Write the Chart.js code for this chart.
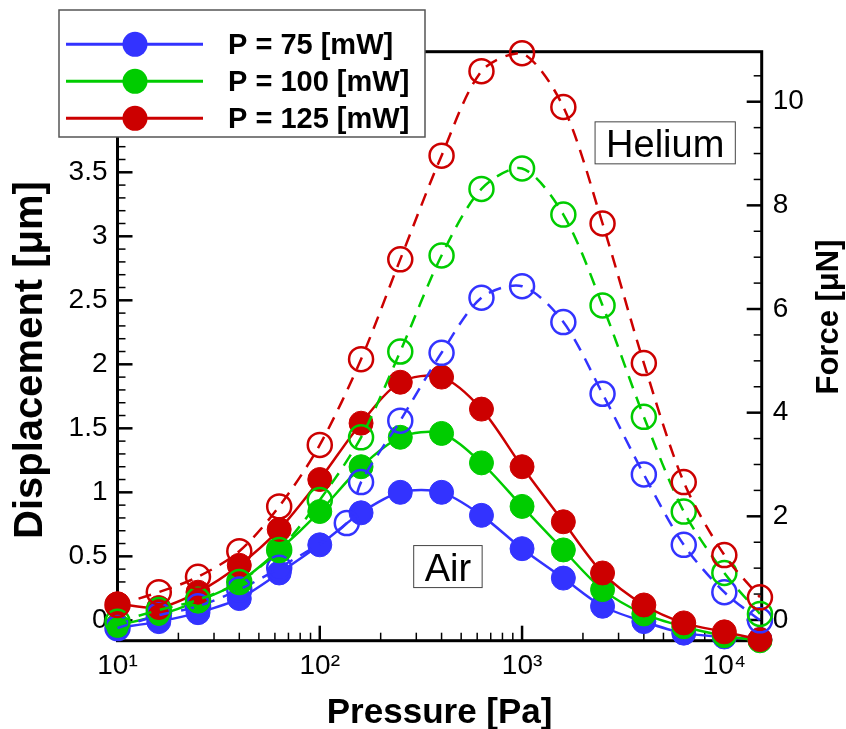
<!DOCTYPE html>
<html>
<head>
<meta charset="utf-8">
<script src="https://cdn.jsdelivr.net/npm/chart.js@4.4.1/dist/chart.umd.min.js"></script>
<style>
  html, body { margin: 0; padding: 0; background: #fff; }
  canvas { display: block; }
</style>
</head>
<body>
<canvas id="myChart" width="846" height="729"></canvas>
<script>
// pressure points [Pa]
var pressure = [10, 16, 25, 40, 63, 100, 160, 250, 400, 630, 1000, 1600, 2500, 4000, 6300, 10000, 15000];
// the 75 mW helium run has its 6th point at ~136 Pa instead of 100
var pressureHe75 = [10, 16, 25, 40, 63, 136, 160, 250, 400, 630, 1000, 1600, 2500, 4000, 6300, 10000, 15000];

var powerLabels = ['P = 75 [mW]', 'P = 100 [mW]', 'P = 125 [mW]'];
var colors = ['#3333ff', '#00cc00', '#cc0000'];

// displacement [um], air (filled, solid line)
var air75  = [-0.06, -0.01, 0.06, 0.17, 0.37, 0.59, 0.84, 1.00, 1.00, 0.82, 0.56, 0.33, 0.11, -0.01, -0.10, -0.13, -0.15];
var air100 = [-0.04, 0.04, 0.15, 0.30, 0.55, 0.85, 1.20, 1.43, 1.46, 1.23, 0.89, 0.55, 0.24, 0.05, -0.05, -0.12, -0.16];
var air125 = [0.13, 0.10, 0.22, 0.43, 0.71, 1.10, 1.54, 1.86, 1.90, 1.65, 1.20, 0.77, 0.37, 0.12, -0.02, -0.09, -0.15];

// displacement [um], helium (open, dashed line)
var he75  = [-0.06, 0.04, 0.11, 0.24, 0.41, 0.76, 1.08, 1.56, 2.09, 2.52, 2.61, 2.33, 1.77, 1.14, 0.59, 0.22, 0.00];
var he100 = [-0.01, 0.08, 0.16, 0.30, 0.55, 0.94, 1.43, 2.10, 2.85, 3.37, 3.53, 3.17, 2.46, 1.59, 0.85, 0.37, 0.05];
var he125 = [0.12, 0.22, 0.34, 0.54, 0.89, 1.37, 2.04, 2.82, 3.63, 4.29, 4.43, 4.01, 3.10, 2.01, 1.08, 0.51, 0.18];

// tick labels
var xTickValues = [10, 100, 1000, 10000];
var xTickLabels = ['10\u00b9', '10\u00b2', '10\u00b3', '10\u2074'];

var FONT = '"Liberation Sans", Arial, Helvetica, sans-serif';

function pts(xs, ys) {
  return xs.map(function (x, i) { return {x: x, y: ys[i]}; });
}

function airSet(i, ys, order) {
  return {
    label: powerLabels[i] + ' air', data: pts(pressure, ys), yAxisID: 'y',
    borderColor: colors[i], backgroundColor: colors[i], borderWidth: 2.5,
    pointRadius: 12, pointBackgroundColor: colors[i], pointBorderColor: colors[i], pointBorderWidth: 1,
    tension: 0.3, clip: false, order: order
  };
}
function heSet(i, xs, ys, order) {
  return {
    label: powerLabels[i] + ' helium', data: pts(xs, ys), yAxisID: 'y',
    borderColor: colors[i], backgroundColor: 'rgba(0,0,0,0)', borderWidth: 2.5, borderDash: [13, 9],
    pointRadius: 12, pointBackgroundColor: 'rgba(0,0,0,0)', pointBorderColor: colors[i], pointBorderWidth: 2.5,
    tension: 0.3, clip: false, order: order
  };
}

function isInt(v) { return Math.abs(v - Math.round(v)) < 1e-6; }

// frame + inward ticks
var axesPlugin = {
  id: 'axesPlugin',
  beforeDatasetsDraw: function (chart) {
    var ctx = chart.ctx, a = chart.chartArea;
    ctx.save();
    ctx.strokeStyle = '#000';
    ctx.lineCap = 'butt';
    // x ticks
    var sx = chart.scales.x;
    sx.ticks.forEach(function (t) {
      var v = t.value;
      var e = Math.floor(Math.log10(v) + 1e-9);
      var sig = v / Math.pow(10, e);
      if (!isInt(sig) || v <= sx.min || v >= sx.max) return;
      var major = Math.round(sig) === 1;
      var px = sx.getPixelForValue(v);
      ctx.lineWidth = major ? 2.5 : 1.5;
      ctx.beginPath();
      ctx.moveTo(px, a.bottom);
      ctx.lineTo(px, a.bottom - (major ? 15 : 8));
      ctx.stroke();
    });
    // left ticks
    var sy = chart.scales.y;
    sy.ticks.forEach(function (t) {
      var major = isInt(t.value * 2);
      var py = sy.getPixelForValue(t.value);
      ctx.lineWidth = major ? 2.5 : 1.5;
      ctx.beginPath();
      ctx.moveTo(a.left, py);
      ctx.lineTo(a.left + (major ? 15 : 8), py);
      ctx.stroke();
    });
    // right ticks
    var sr = chart.scales.y1;
    sr.ticks.forEach(function (t) {
      var major = isInt(t.value / 2);
      var py = sr.getPixelForValue(t.value);
      ctx.lineWidth = major ? 2.5 : 1.5;
      ctx.beginPath();
      ctx.moveTo(a.right, py);
      ctx.lineTo(a.right - (major ? 15 : 8), py);
      ctx.stroke();
    });
    ctx.lineWidth = 3;
    ctx.strokeRect(a.left, a.top, a.right - a.left, a.bottom - a.top);
    ctx.restore();
  },
  afterDraw: function (chart) {
    var ctx = chart.ctx, a = chart.chartArea;
    var sx = chart.scales.x, sy = chart.scales.y;
    ctx.save();
    ctx.fillStyle = '#000';

    // axis titles
    ctx.font = 'bold 35px ' + FONT;
    ctx.textAlign = 'center';
    ctx.textBaseline = 'alphabetic';
    ctx.fillText('Pressure [Pa]', (a.left + a.right) / 2, 723);

    ctx.save();
    ctx.translate(42, 360);
    ctx.rotate(-Math.PI / 2);
    ctx.font = 'bold 40px ' + FONT;
    ctx.fillText('Displacement [\u03bcm]', 0, 0);
    ctx.restore();

    ctx.save();
    ctx.translate(838, 317);
    ctx.rotate(-Math.PI / 2);
    ctx.font = 'bold 31px ' + FONT;
    ctx.fillText('Force [\u03bcN]', 0, 0);
    ctx.restore();

    // gas labels, placed in data coordinates
    function boxLabel(text, xv, yv) {
      ctx.font = '38px ' + FONT;
      var w = ctx.measureText(text).width + 22;
      var h = 42;
      var cx = sx.getPixelForValue(xv), cy = sy.getPixelForValue(yv);
      ctx.fillStyle = '#fff';
      ctx.fillRect(cx - w / 2, cy - h / 2, w, h);
      ctx.strokeStyle = '#444';
      ctx.lineWidth = 1;
      ctx.strokeRect(cx - w / 2, cy - h / 2, w, h);
      ctx.fillStyle = '#000';
      ctx.textAlign = 'center';
      ctx.textBaseline = 'alphabetic';
      ctx.fillText(text, cx, cy + 14);
    }
    boxLabel('Helium', 5100, 3.73);
    boxLabel('Air', 430, 0.42);

    // legend
    ctx.fillStyle = '#fff';
    ctx.fillRect(59, 10, 366, 127);
    ctx.strokeStyle = '#555';
    ctx.lineWidth = 1.5;
    ctx.strokeRect(59, 10, 366, 127);
    ctx.font = 'bold 29px ' + FONT;
    ctx.textAlign = 'left';
    for (var i = 0; i < powerLabels.length; i++) {
      var ry = 44.3 + i * 37;
      ctx.strokeStyle = colors[i];
      ctx.lineWidth = 3;
      ctx.beginPath();
      ctx.moveTo(66, ry);
      ctx.lineTo(203, ry);
      ctx.stroke();
      ctx.fillStyle = colors[i];
      ctx.beginPath();
      ctx.arc(135, ry, 12.5, 0, Math.PI * 2);
      ctx.fill();
      ctx.fillStyle = '#000';
      ctx.fillText(powerLabels[i], 228, ry + 10);
    }
    ctx.restore();
  }
};

var ctx = document.getElementById('myChart').getContext('2d');
var chart = new Chart(ctx, {
  type: 'line',
  data: {
    datasets: [
      airSet(0, air75, 5),
      airSet(1, air100, 4),
      airSet(2, air125, 3),
      heSet(0, pressureHe75, he75, 2),
      heSet(1, pressure, he100, 1),
      heSet(2, pressure, he125, 0)
    ]
  },
  options: {
    responsive: false,
    devicePixelRatio: 1,
    animation: false,
    events: [],
    layout: { padding: { top: 51.7, left: 0, right: 0, bottom: 0 } },
    plugins: { legend: { display: false }, tooltip: { enabled: false } },
    scales: {
      x: {
        type: 'logarithmic', position: 'bottom', min: 10, max: 15300,
        grid: { display: false, drawTicks: false }, border: { display: false },
        ticks: {
          autoSkip: false, maxRotation: 0, minRotation: 0, padding: 9, color: '#000',
          font: { family: FONT, size: 28 },
          callback: function (v) {
            var k = xTickValues.indexOf(Math.round(v));
            return k >= 0 && Math.abs(v - xTickValues[k]) < 1e-6 ? xTickLabels[k] : '';
          }
        },
        afterFit: function (s) { s.height = 88.3; }
      },
      y: {
        position: 'left', min: -0.159, max: 4.442,
        grid: { display: false, drawTicks: false }, border: { display: false },
        ticks: {
          stepSize: 0.1, includeBounds: false, autoSkip: false, padding: 10, color: '#000',
          font: { family: FONT, size: 28 },
          callback: function (v) { return isInt(v * 2) ? String(Math.round(v * 10) / 10) : ''; }
        },
        afterFit: function (s) { s.width = 117.5; }
      },
      y1: {
        position: 'right', min: -0.40, max: 10.965,
        grid: { display: false, drawTicks: false }, border: { display: false },
        ticks: {
          stepSize: 0.5, includeBounds: false, autoSkip: false, padding: 11, color: '#000',
          font: { family: FONT, size: 28 },
          callback: function (v) { return isInt(v / 2) ? String(Math.round(v)) : ''; }
        },
        afterFit: function (s) { s.width = 84.3; }
      }
    }
  },
  plugins: [axesPlugin]
});
</script>
</body>
</html>
